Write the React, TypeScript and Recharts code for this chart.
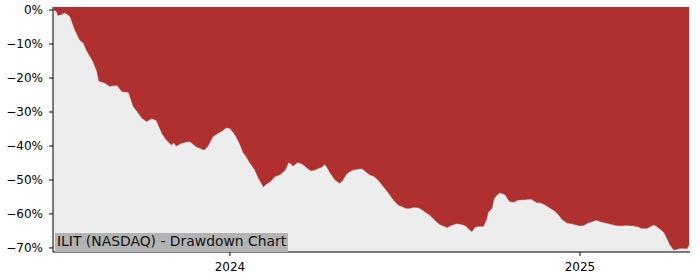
import { Area, AreaChart, CartesianGrid, XAxis, YAxis } from "recharts";

const dates = [
  "2023-07-01", "2023-07-04", "2023-07-05", "2023-07-08", "2023-07-12", "2023-07-15",
  "2023-07-18", "2023-07-23", "2023-07-28", "2023-08-01", "2023-08-04", "2023-08-11",
  "2023-08-15", "2023-08-17", "2023-08-23", "2023-08-28", "2023-09-05", "2023-09-10",
  "2023-09-17", "2023-09-22", "2023-09-27", "2023-10-01", "2023-10-06", "2023-10-11",
  "2023-10-16", "2023-10-22", "2023-10-26", "2023-10-30", "2023-11-01", "2023-11-03",
  "2023-11-06", "2023-11-11", "2023-11-16", "2023-11-20", "2023-11-27", "2023-12-02",
  "2023-12-05", "2023-12-09", "2023-12-14", "2023-12-19", "2023-12-24", "2023-12-28",
  "2024-01-01", "2024-01-04", "2024-01-07", "2024-01-11", "2024-01-15", "2024-01-18",
  "2024-01-22", "2024-01-27", "2024-01-31", "2024-02-05", "2024-02-08", "2024-02-12",
  "2024-02-17", "2024-02-22", "2024-02-25", "2024-02-28", "2024-03-02", "2024-03-04",
  "2024-03-07", "2024-03-12", "2024-03-16", "2024-03-19", "2024-03-23", "2024-03-26",
  "2024-03-30", "2024-04-02", "2024-04-06", "2024-04-09", "2024-04-12", "2024-04-15",
  "2024-04-20", "2024-04-25", "2024-04-28", "2024-05-02", "2024-05-05", "2024-05-09",
  "2024-05-14", "2024-05-18", "2024-05-22", "2024-05-26", "2024-05-30", "2024-06-04",
  "2024-06-09", "2024-06-14", "2024-06-20", "2024-06-25", "2024-06-29", "2024-07-03",
  "2024-07-07", "2024-07-11", "2024-07-16", "2024-07-20", "2024-07-25", "2024-07-28",
  "2024-07-31", "2024-08-04", "2024-08-08", "2024-08-11", "2024-08-15", "2024-08-19",
  "2024-08-25", "2024-08-30", "2024-09-03", "2024-09-06", "2024-09-10", "2024-09-13",
  "2024-09-17", "2024-09-22", "2024-09-25", "2024-09-27", "2024-10-01", "2024-10-03",
  "2024-10-06", "2024-10-09", "2024-10-12", "2024-10-15", "2024-10-18", "2024-10-20",
  "2024-10-24", "2024-10-28", "2024-11-02", "2024-11-07", "2024-11-11", "2024-11-17",
  "2024-11-20", "2024-11-25", "2024-12-01", "2024-12-05", "2024-12-09", "2024-12-13",
  "2024-12-18", "2024-12-24", "2024-12-28", "2025-01-01", "2025-01-05", "2025-01-09",
  "2025-01-14", "2025-01-18", "2025-01-23", "2025-01-29", "2025-02-01", "2025-02-07",
  "2025-02-12", "2025-02-18", "2025-02-26", "2025-03-03", "2025-03-06", "2025-03-12",
  "2025-03-15", "2025-03-19", "2025-03-22", "2025-03-27", "2025-03-30", "2025-04-02",
  "2025-04-05", "2025-04-09", "2025-04-12", "2025-04-16", "2025-04-20", "2025-04-23",
  "2025-04-25",
];

// drawdown in percent
const drawdown = [
  0, -0.5, -1.5, -1.4, -0.8, -1.2,
  -2.0, -5.9, -8.8, -9.8, -11.8, -15.2,
  -18.1, -20.9, -21.4, -22.4, -22.1, -24.0,
  -24.2, -28.4, -30.2, -31.8, -32.8, -31.9,
  -32.4, -36.3, -38.0, -39.2, -39.7, -39.0,
  -40.0, -39.2, -38.8, -38.7, -40.2, -40.8,
  -41.2, -40.0, -37.3, -36.3, -35.5, -34.6,
  -34.8, -35.8, -37.0, -39.2, -42.0, -43.1,
  -45.0, -47.0, -49.5, -52.0, -51.2, -50.5,
  -49.0, -48.5, -47.8, -47.0, -44.9, -45.0,
  -45.9, -44.8, -45.2, -45.8, -46.8, -47.3,
  -47.0, -46.6, -46.2, -45.4, -46.5, -48.0,
  -50.0, -51.0, -50.0, -48.2, -47.6, -47.0,
  -46.8, -46.6, -47.5, -48.5, -48.8, -50.0,
  -51.8, -53.5, -55.9, -57.4, -57.8, -58.3,
  -58.3, -58.0, -58.1, -58.8, -59.8, -60.3,
  -61.2, -62.3, -63.2, -63.5, -64.0, -63.4,
  -62.8, -63.0, -63.4, -64.2, -65.2, -63.9,
  -63.6, -63.6, -61.8, -59.5, -58.3, -55.5,
  -54.5, -53.8, -54.0, -54.4, -55.8, -56.4,
  -56.5, -55.9, -55.8, -55.7, -55.6, -56.7,
  -56.6, -57.2, -58.3, -59.0, -60.0, -61.5,
  -62.6, -62.9, -63.2, -63.5, -63.3, -62.7,
  -62.2, -61.8, -62.3, -62.7, -62.9, -63.3,
  -63.5, -63.3, -63.5, -63.8, -64.2, -64.2,
  -63.8, -63.2, -63.6, -64.7, -65.5, -67.2,
  -69.0, -70.6, -70.4, -70.1, -70.1, -70.2,
  -69.1,
];

const xTicks = ["2024-01-01", "2025-01-01"];
const yTicks = [0, -10, -20, -30, -40, -50, -60, -70];

const rows = dates.map((d, i) => ({ t: Date.parse(d), dd: drawdown[i] }));
const xDomain = [Date.parse("2023-06-30"), Date.parse("2025-04-26")];
const yDomain = [-71.2, 0.9];

const font = "'DejaVu Sans', sans-serif";
const tickStyle = { fill: "#000", fontSize: 12, fontFamily: font };

const fmtPct = (v: number) => (v === 0 ? "0%" : `\u2212${Math.abs(v)}%`);
const fmtYear = (v: number) => String(new Date(v).getUTCFullYear());

export default function App() {
  return (
    <div style={{ position: "absolute", left: 0, top: 0, width: 700, height: 280, background: "#fff" }}>
      <AreaChart width={700} height={280} data={rows} margin={{ top: 7, right: 10, bottom: 0, left: 0 }}>
        <CartesianGrid horizontal={false} vertical={false} fill="#ededed" />
        <XAxis
          dataKey="t"
          type="number"
          scale="time"
          domain={xDomain}
          allowDataOverflow
          ticks={xTicks.map((d) => Date.parse(d))}
          tickFormatter={fmtYear}
          height={28}
          tickSize={4}
          tickMargin={6}
          tick={tickStyle}
          axisLine={{ stroke: "#000" }}
          tickLine={{ stroke: "#000" }}
        />
        <XAxis
          xAxisId="top"
          dataKey="t"
          type="number"
          orientation="top"
          domain={xDomain}
          allowDataOverflow
          height={0}
          tick={false}
          tickLine={false}
          axisLine={{ stroke: "#000" }}
        />
        <YAxis
          type="number"
          domain={yDomain}
          allowDataOverflow
          ticks={yTicks}
          tickFormatter={fmtPct}
          width={53}
          tickSize={4}
          tickMargin={6}
          tick={tickStyle}
          axisLine={{ stroke: "#000" }}
          tickLine={{ stroke: "#000" }}
        />
        <YAxis
          yAxisId="right"
          type="number"
          orientation="right"
          domain={yDomain}
          allowDataOverflow
          width={0}
          tick={false}
          tickLine={false}
          axisLine={{ stroke: "#000" }}
        />
        <Area
          type="linear"
          dataKey="dd"
          baseValue="dataMax"
          fill="#b03030"
          fillOpacity={1}
          stroke="#b03030"
          strokeWidth={0.5}
          isAnimationActive={false}
        />
      </AreaChart>
      <div
        style={{
          position: "absolute",
          left: 55,
          top: 233,
          width: 233,
          height: 19,
          lineHeight: "17px",
          background: "#b3b3b3",
          fontFamily: font,
          fontSize: 13.9,
          color: "#111",
          paddingLeft: 2,
          boxSizing: "border-box",
          whiteSpace: "nowrap",
        }}
      >
        ILIT (NASDAQ) - Drawdown Chart
      </div>
    </div>
  );
}
